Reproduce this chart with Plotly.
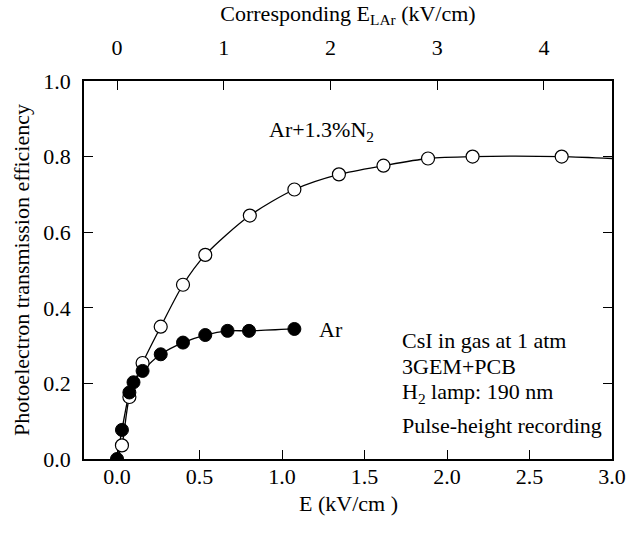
import plotly.graph_objects as go

# Ar + 1.3% N2 (open circles)
n2_x = [0.03, 0.075, 0.155, 0.265, 0.40, 0.535, 0.805, 1.075, 1.345, 1.615, 1.885, 2.155, 2.695]
n2_y = [0.036, 0.164, 0.254, 0.350, 0.461, 0.540, 0.644, 0.713, 0.753, 0.776, 0.795, 0.800, 0.800]
# fitted curve through the N2 points (starts at origin, runs to right edge)
n2_fit_x = [0.0] + n2_x + [3.0]
n2_fit_y = [0.0] + n2_y + [0.795]

# Pure Ar (filled circles)
ar_x = [0.0, 0.03, 0.075, 0.10, 0.155, 0.265, 0.40, 0.535, 0.67, 0.80, 1.075]
ar_y = [0.0, 0.077, 0.176, 0.203, 0.233, 0.277, 0.308, 0.328, 0.339, 0.339, 0.344]

x_ticks = [0.0, 0.5, 1.0, 1.5, 2.0, 2.5, 3.0]
x_tick_text = ["0.0", "0.5", "1.0", "1.5", "2.0", "2.5", "3.0"]
y_ticks = [0.0, 0.2, 0.4, 0.6, 0.8, 1.0]
y_tick_text = ["0.0", "0.2", "0.4", "0.6", "0.8", "1.0"]
top_ticks = [0, 1, 2, 3, 4]
e_lar_factor = 1.546  # E_LAr / E

FONT = "Liberation Serif, Times New Roman, serif"
FS = 22

fig = go.Figure()
fig.add_trace(go.Scatter(x=n2_fit_x, y=n2_fit_y, mode="lines",
                         line=dict(color="black", width=1.3, shape="spline", smoothing=0.8),
                         showlegend=False, hoverinfo="skip"))
fig.add_trace(go.Scatter(x=ar_x, y=ar_y, mode="lines",
                         line=dict(color="black", width=1.3, shape="spline", smoothing=0.8),
                         showlegend=False, hoverinfo="skip"))
fig.add_trace(go.Scatter(x=n2_x, y=n2_y, mode="markers",
                         marker=dict(symbol="circle", size=13, color="white",
                                     line=dict(color="black", width=1.2)),
                         showlegend=False))
fig.add_trace(go.Scatter(x=ar_x, y=ar_y, mode="markers",
                         marker=dict(symbol="circle", size=13, color="black",
                                     line=dict(color="black", width=1)),
                         showlegend=False))
# empty trace to activate the top axis
fig.add_trace(go.Scatter(x=[], y=[], xaxis="x2", yaxis="y", showlegend=False))

def note(x, y, text, xref="x", yref="y", xanchor="left"):
    fig.add_annotation(x=x, y=y, xref=xref, yref=yref, xanchor=xanchor, yanchor="middle",
                       text=text, showarrow=False,
                       font=dict(family=FONT, size=FS, color="black"))

note(0.91, 0.867, "Ar+1.3%N<sub>2</sub>")
note(1.21, 0.343, "Ar")
note(1.715, 0.314, "CsI in gas at 1 atm")
note(1.715, 0.244, "3GEM+PCB")
note(1.715, 0.175, "H<sub>2</sub> lamp: 190 nm")
note(1.715, 0.088, "Pulse-height recording")
# bottom axis title
note(0.5, -0.118, "E (kV/cm )", xref="paper", yref="paper", xanchor="center")

axis_common = dict(showline=True, linecolor="black", linewidth=1.5, ticks="inside",
                   ticklen=9, tickwidth=1.3, tickcolor="black", showgrid=False,
                   zeroline=False, tickfont=dict(family=FONT, size=FS, color="black"))

fig.update_layout(
    width=638, height=534,
    margin=dict(l=84, r=13, t=77, b=75),
    paper_bgcolor="white", plot_bgcolor="white",
    font=dict(family=FONT, size=FS, color="black"),
    xaxis=dict(range=[-0.2, 3.0], tickvals=x_ticks, ticktext=x_tick_text,
               mirror=False, ticklabelstandoff=-3,
               **axis_common),
    xaxis2=dict(range=[-0.2 * e_lar_factor, 3.0 * e_lar_factor], tickvals=top_ticks,
                overlaying="x", side="top", anchor="y", ticklabelstandoff=15,
                title=dict(text="Corresponding E<sub>LAr</sub> (kV/cm)",
                           font=dict(family=FONT, size=FS), standoff=8),
                **axis_common),
    yaxis=dict(range=[0.0, 1.0], tickvals=y_ticks, ticktext=y_tick_text,
               mirror="ticks", ticklabelstandoff=7,
               title=dict(text="Photoelectron transmission efficiency",
                          font=dict(family=FONT, size=FS), standoff=8),
               **axis_common),
)

fig.write_html("out.html")
